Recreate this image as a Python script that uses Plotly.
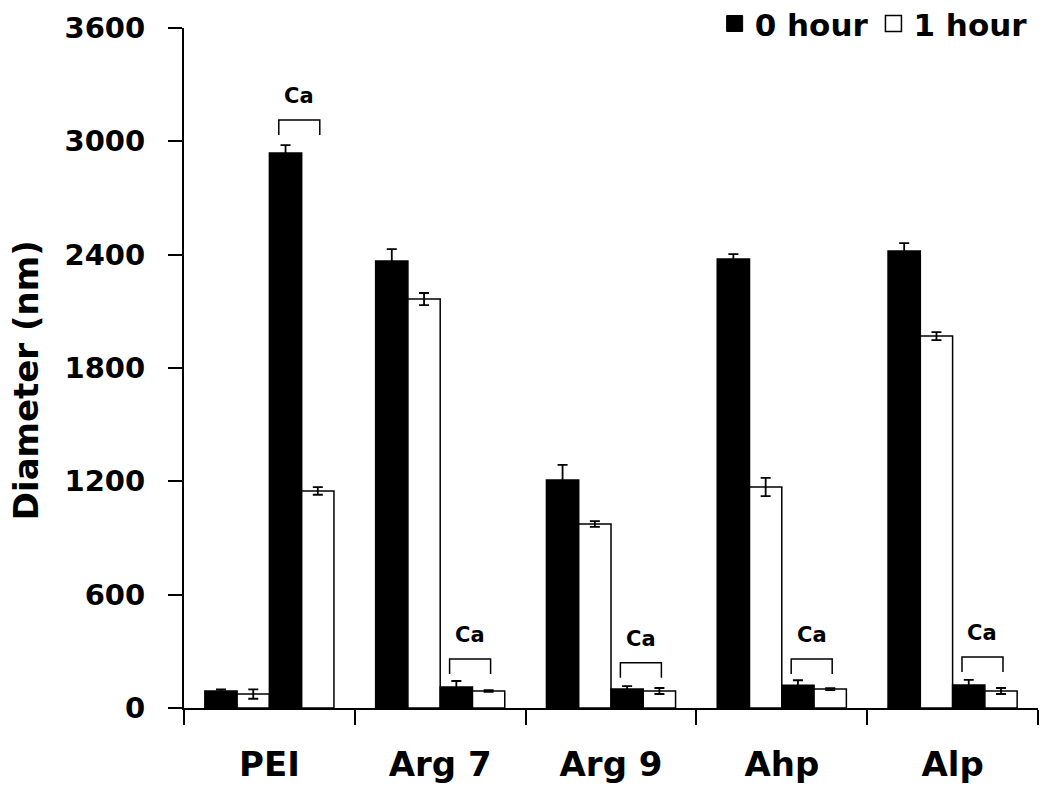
import plotly.graph_objects as go

categories = ["PEI", "Arg 7", "Arg 9", "Ahp", "Alp"]

# without Ca
no_ca_0h = [90, 2366, 1207, 2377, 2419]
no_ca_0h_err = [8, 63, 80, 26, 42]
no_ca_1h = [74, 2165, 974, 1170, 1969]
no_ca_1h_err = [25, 32, 15, 48, 21]

# with Ca
ca_0h = [2938, 111, 100, 120, 122]
ca_0h_err = [42, 32, 16, 27, 27]
ca_1h = [1149, 90, 90, 100, 90]
ca_1h_err = [20, 5, 16, 5, 16]

# Ca bracket annotation baseline (data units)
ca_bracket_base = [3034, 180, 160, 180, 191]

FONT = "DejaVu Sans"
BLACK = "#000000"
WHITE = "#ffffff"

fig = go.Figure()

def add_bar(y, err, color, name):
    fig.add_trace(go.Bar(
        x=categories, y=y, name=name, showlegend=False,
        marker=dict(color=color, line=dict(color=BLACK, width=1.5)),
        error_y=dict(type="data", array=err, visible=True, color=BLACK,
                     thickness=1.8, width=5),
    ))

add_bar(no_ca_0h, no_ca_0h_err, BLACK, "0 hour")
add_bar(no_ca_1h, no_ca_1h_err, WHITE, "1 hour")
add_bar(ca_0h, ca_0h_err, BLACK, "0 hour (Ca)")
add_bar(ca_1h, ca_1h_err, WHITE, "1 hour (Ca)")

# legend entries
fig.add_trace(go.Scatter(x=[None], y=[None], mode="markers", name="0 hour",
                         marker=dict(symbol="square", size=16, color=BLACK,
                                     line=dict(color=BLACK, width=1))))
fig.add_trace(go.Scatter(x=[None], y=[None], mode="markers", name="1 hour",
                         marker=dict(symbol="square", size=16, color=WHITE,
                                     line=dict(color=BLACK, width=1.5))))

# Ca brackets
left_off, right_off = 0.055, 0.295
for i, base in enumerate(ca_bracket_base):
    top = base + 79
    x0, x1 = i + left_off, i + right_off
    fig.add_shape(type="path",
                  path=f"M {x0} {base} L {x0} {top} L {x1} {top} L {x1} {base}",
                  xref="x", yref="y", line=dict(color=BLACK, width=1.5))
    fig.add_annotation(x=(x0 + x1) / 2, y=top + 125, xref="x", yref="y",
                       text="Ca", showarrow=False,
                       font=dict(family=FONT, size=21, color=BLACK, weight="bold"))

# y-axis title
fig.add_annotation(x=-0.185, y=0.482, xref="paper", yref="paper",
                   text="Diameter (nm)", textangle=-90, showarrow=False,
                   xanchor="center", yanchor="middle",
                   font=dict(family=FONT, size=34, color=BLACK, weight="bold"))

fig.update_layout(
    width=1050, height=792,
    margin=dict(l=176, r=20, t=20, b=92, autoexpand=False),
    paper_bgcolor=WHITE, plot_bgcolor=WHITE,
    barmode="group", bargap=0.244, bargroupgap=0,
    font=dict(family=FONT, color=BLACK),
    legend=dict(orientation="h", xref="container", yref="container",
                x=0.673, xanchor="left", y=0.98, yanchor="middle",
                font=dict(family=FONT, size=31, color=BLACK, weight="bold"),
                itemwidth=30, bgcolor="rgba(0,0,0,0)", traceorder="normal"),
    showlegend=True,
)

fig.update_xaxes(
    type="category", showline=True, linecolor=BLACK, linewidth=2, automargin=False,
    ticks="outside", tickson="boundaries", ticklen=15, tickwidth=2, tickcolor=BLACK,
    tickfont=dict(family=FONT, size=34, color=BLACK, weight="bold"),
    ticklabelstandoff=25, showgrid=False, zeroline=False, range=[-0.5, 4.5],
)
fig.update_yaxes(
    range=[0, 3600], dtick=600, tick0=0, showline=True, linecolor=BLACK, linewidth=2,
    automargin=False,
    ticks="outside", ticklen=14, tickwidth=2, tickcolor=BLACK,
    tickfont=dict(family=FONT, size=29, color=BLACK, weight="bold"),
    ticklabelstandoff=17, showgrid=False, zeroline=False,
)

fig.write_html("out.html")
